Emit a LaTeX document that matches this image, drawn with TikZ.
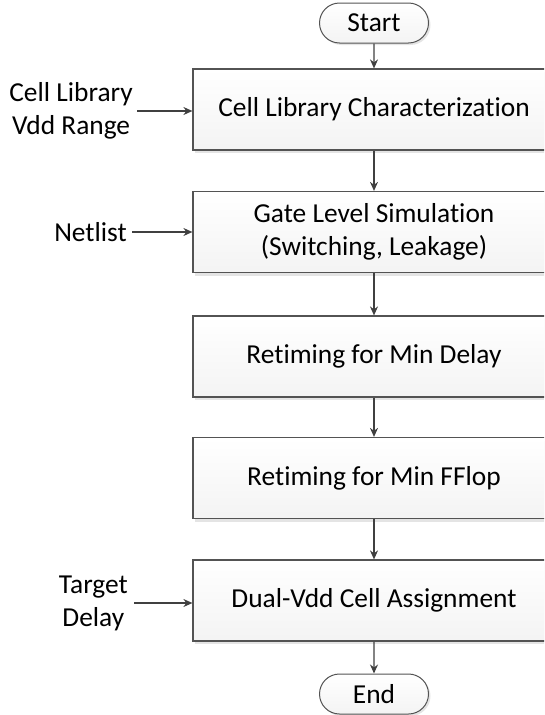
\documentclass[tikz,border=0pt]{standalone}
\usepackage{fontspec}
\setmainfont{Carlito}[Ligatures={NoCommon}, RawFeature={-liga;-clig;-calt}]
\usetikzlibrary{shapes.misc,shadows,arrows.meta}
% t and i set apart, so no joined glyph is formed
\newcommand{\tii}{t\kern0pt i}
\begin{document}
\begin{tikzpicture}[x=1pt,y=-1pt,
  every node/.style={font=\fontsize{27.4}{33}\selectfont, text=black},
  flowbox/.style={rectangle, draw=gray!65!black, line width=1.2pt,
    minimum width=362pt, minimum height=81pt, align=center,
    top color=white, bottom color=gray!9,
    drop shadow={shadow xshift=2pt, shadow yshift=-3pt, fill=gray!30, opacity=0.7}},
  terminal/.style={rounded rectangle, draw=gray!65!black, line width=1pt,
    minimum width=109pt, minimum height=40pt, inner sep=0pt,
    top color=white, bottom color=gray!9,
    drop shadow={shadow xshift=2pt, shadow yshift=-2pt, fill=gray!30, opacity=0.7}},
  inlabel/.style={align=center, anchor=east, inner sep=0pt},
  flow/.style={draw=black!75, line width=1.3pt, -{Stealth[length=9pt,width=8pt]}}
]
\useasboundingbox (0,0) rectangle (544,715);
\clip (0,0) rectangle (544,715);

% main column
\node[terminal] (start) at (374,23) {Start};
\node[flowbox] (char) at (374,109.5) {Cell Library Characteriza\tii on};
\node[flowbox] (sim) at (374,232) {Gate Level Simula\tii on\\(Switching, Leakage)};
\node[flowbox] (rdelay) at (374,356.5) {Re\tii ming for Min Delay};
\node[flowbox] (rflop) at (374,478) {Re\tii ming for Min FFlop};
\node[flowbox] (assign) at (374,600.5) {Dual-Vdd Cell Assignment};
\node[terminal] (end) at (374,694) {End};

% side inputs
\node[inlabel] (vdd) at (133,111) {Cell Library\\Vdd Range};
\node[inlabel] (net) at (127,232) {Netlist};
\node[inlabel] (tgt) at (128,603) {Target\\Delay};

% connectors
\draw[flow] (start) -- (char);
\draw[flow] (char) -- (sim);
\draw[flow] (sim) -- (rdelay);
\draw[flow] (rdelay) -- (rflop);
\draw[flow] (rflop) -- (assign);
\draw[flow] (assign) -- (end);
\draw[flow] ([xshift=4pt]vdd.east) -- (vdd.east -| char.west);
\draw[flow] ([xshift=5pt]net.east) -- (net.east -| sim.west);
\draw[flow] ([xshift=6pt]tgt.east) -- (tgt.east -| assign.west);
\end{tikzpicture}
\end{document}
